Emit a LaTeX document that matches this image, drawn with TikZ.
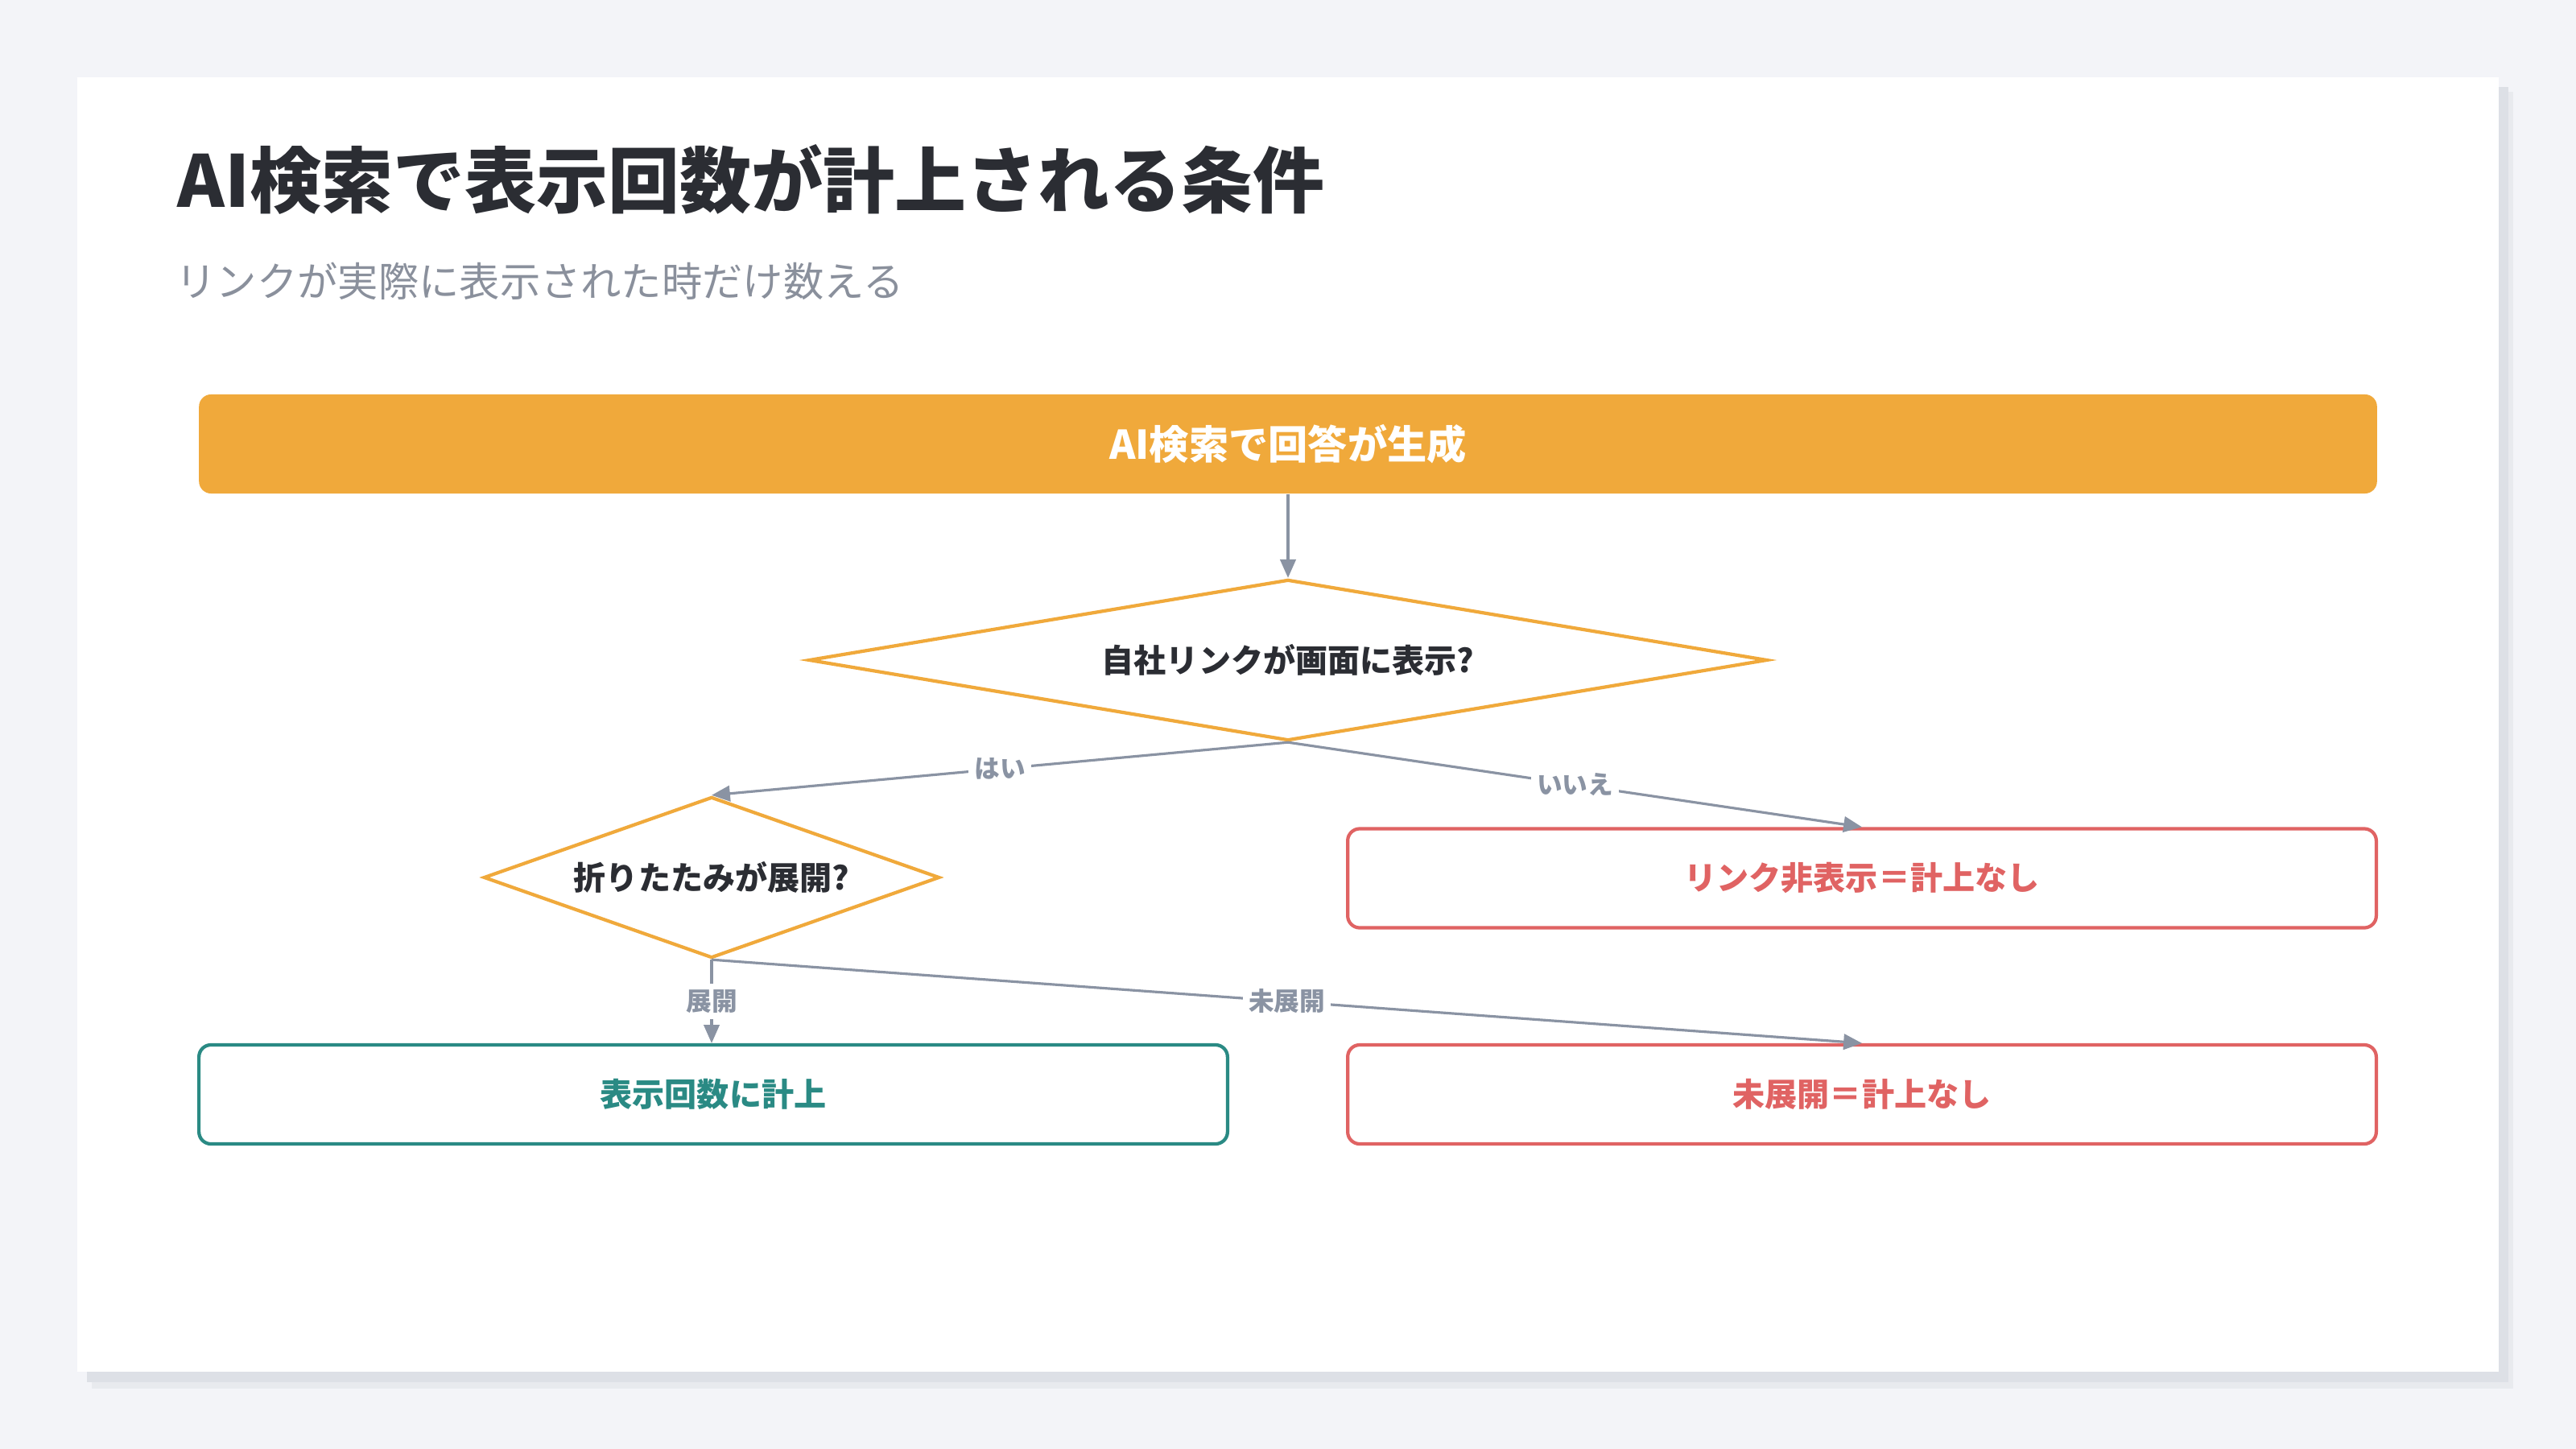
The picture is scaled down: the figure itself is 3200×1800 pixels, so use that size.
\documentclass[tikz,border=0pt]{standalone}
\usepackage{fontspec}
\setmainfont{Noto Sans CJK JP}
\newfontfamily\titlefont{Noto Sans CJK JP Black}
\usetikzlibrary{arrows.meta,shapes.geometric}
\definecolor{bgc}{HTML}{F3F4F8}
\definecolor{shadowA}{HTML}{E8EAEE}
\definecolor{shadowB}{HTML}{DDE0E6}
\definecolor{titlec}{HTML}{2B2D33}
\definecolor{subc}{HTML}{8A909C}
\definecolor{orangec}{HTML}{F0A93B}
\definecolor{edgec}{HTML}{8A93A3}
\definecolor{tealc}{HTML}{2A8A84}
\definecolor{redc}{HTML}{E06363}
\tikzset{
  topbox/.style={rectangle, rounded corners=0.15cm, fill=orangec, draw=none,
    minimum width=27.04cm, minimum height=1.23cm, inner sep=0pt,
    text=white, font=\fontsize{14pt}{14pt}\selectfont\bfseries},
  decision/.style={diamond, draw=orangec, line width=1.2pt, fill=white, inner sep=0pt,
    text=titlec, font=\fontsize{11.4pt}{11.4pt}\selectfont\bfseries},
  resbox/.style={rectangle, rounded corners=0.15cm, line width=1.2pt, fill=white,
    minimum width=12.77cm, minimum height=1.23cm, inner sep=0pt,
    font=\fontsize{11.4pt}{11.4pt}\selectfont\bfseries},
  okbox/.style={resbox, draw=tealc, text=tealc},
  ngbox/.style={resbox, draw=redc, text=redc},
  flow/.style={draw=edgec, line width=0.9pt, -{Triangle[length=6.5pt,width=5.5pt]}},
  elabel/.style={fill=white, inner sep=2pt, text=edgec,
    font=\fontsize{9pt}{9pt}\selectfont\bfseries}
}
\begin{document}
\begin{tikzpicture}[x=0.01cm,y=-0.01cm]
\useasboundingbox (0,0) rectangle (3200,1800);
\fill[bgc] (0,0) rectangle (3200,1800);
\fill[shadowA] (114,114) rectangle (3122,1725);
\fill[shadowB] (108,108) rectangle (3116,1717);
\fill[white] (96,96) rectangle (3104,1704);
\node[anchor=base west, inner sep=0pt, text=titlec, font=\fontsize{25.3pt}{25.3pt}\titlefont] (title) at (220,258) {AI検索で表示回数が計上される条件};
\node[anchor=base west, inner sep=0pt, text=subc, font=\fontsize{14.3pt}{14.3pt}\selectfont] (subtitle) at (218,368) {リンクが実際に表示された時だけ数える};
\node[topbox] (start) at (1600,551.5) {AI検索で回答が生成};
\node[decision, shape aspect=5.95, minimum width=11.9cm, minimum height=2.0cm] (d1) at (1600,820) {自社リンクが画面に表示?};
\node[decision, shape aspect=2.83, minimum width=5.66cm, minimum height=2.0cm] (d2) at (884,1090) {折りたたみが展開?};
\node[ngbox] (hidden) at (2313,1091) {リンク非表示＝計上なし};
\node[okbox] (count) at (886,1359.5) {表示回数に計上};
\node[ngbox] (closed) at (2313,1359.5) {未展開＝計上なし};
\draw[flow] (start.south) -- (d1.north);
\draw[flow] (d1.south) -- node[elabel] {はい} (d2.north);
\draw[flow] (d1.south) -- node[elabel] {いいえ} (hidden.north);
\draw[flow] (d2.south) -- node[elabel] {展開} (count.north -| d2.south);
\draw[flow] (d2.south) -- node[elabel] {未展開} (closed.north);
\end{tikzpicture}
\end{document}
